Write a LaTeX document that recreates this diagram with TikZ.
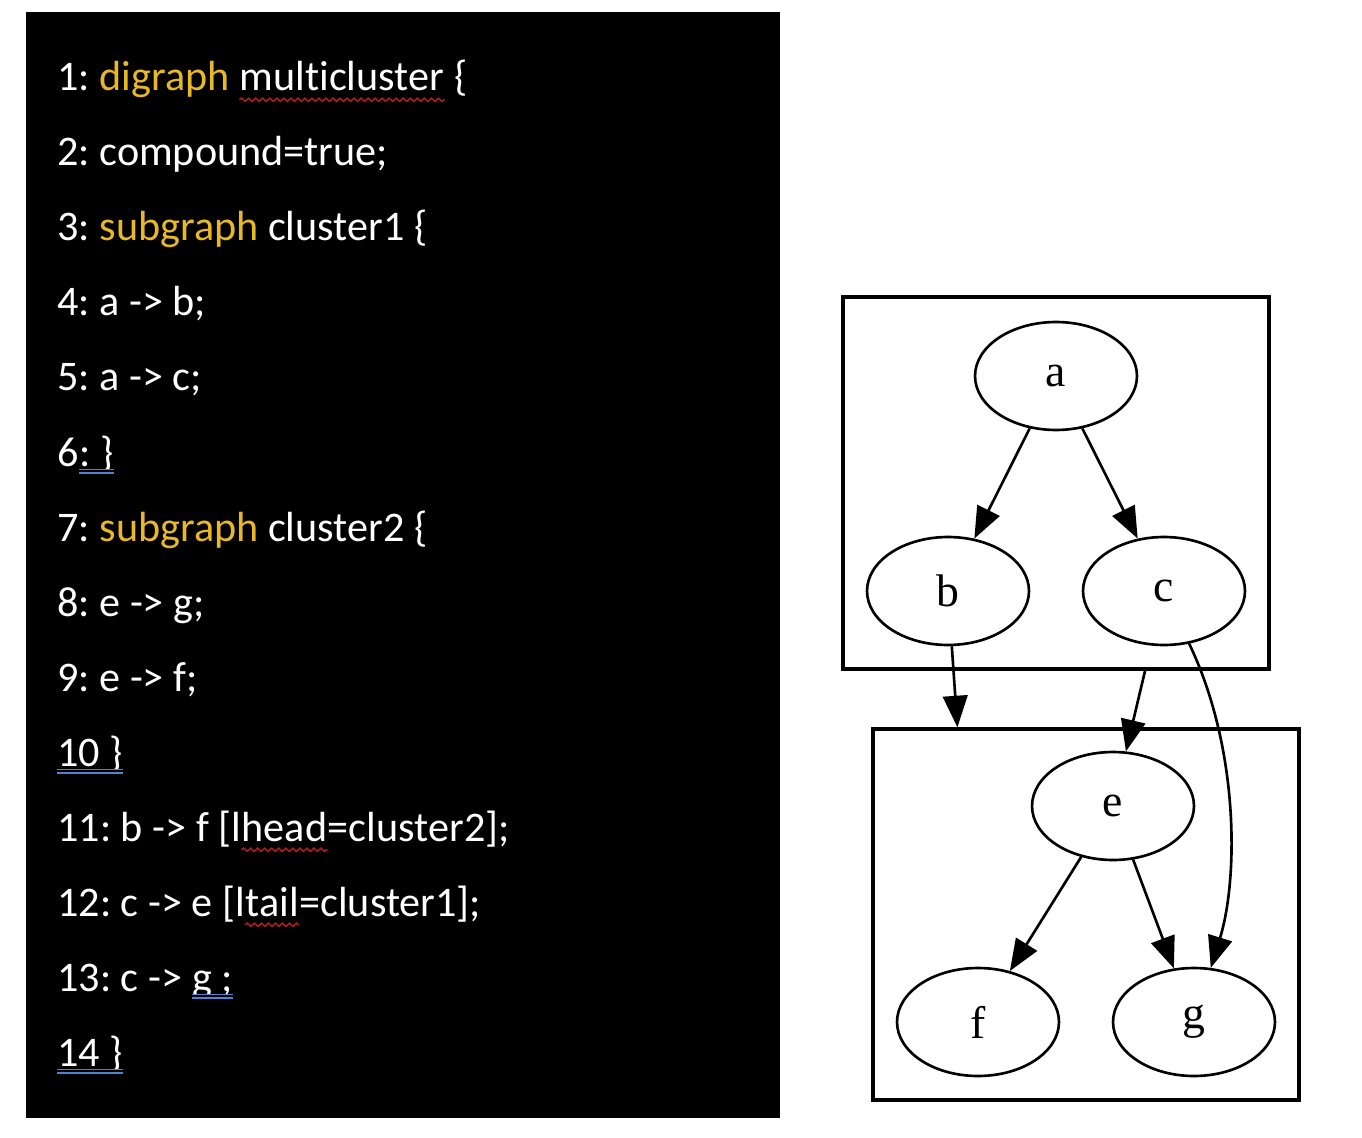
\documentclass[tikz,border=0pt]{standalone}
\usepackage{fontspec}
\setmainfont{Carlito}[Ligatures=NoCommon]
\newfontfamily\dotfont{Liberation Serif}
\usetikzlibrary{arrows.meta}
\usetikzlibrary{shapes.geometric}
\usetikzlibrary{decorations.pathmorphing}

\definecolor{keyword}{RGB}{232,184,40}
\definecolor{spellred}{RGB}{170,30,30}
\definecolor{grammarblue}{RGB}{80,130,210}
\newcommand\kw[1]{\textcolor{keyword}{#1}}
\tikzset{
	spellmark/.style={draw=spellred,line width=0.9pt,decorate,decoration={snake,amplitude=0.9pt,segment length=4pt}},
	grammarmark/.style={draw=grammarblue,double=black,double distance=1.2pt,line width=0.8pt}
}
\frenchspacing

\begin{document}
\begin{tikzpicture}[x=0.02cm,y=-0.02cm]
		\useasboundingbox (0,0) rectangle (1362,1138);
		\fill[black] (26,12) rectangle (780,1118);

		\begin{scope}[every node/.style={anchor=base west,inner sep=0pt,text=white,font=\fontsize{24}{28}\selectfont}]
			\node (line1) at (57,91) {1: \kw{digraph}\mbox{\ }};
			\node (line1w) at (line1.base east) {multicluster};
			\node (line1z) at (line1w.base east) {\mbox{\ }\{};
			\node (line2) at (57,166) {2: compound=true;};
			\node (line3) at (57,241) {3: \kw{subgraph} cluster1 \{};
			\node (line4) at (57,316) {4: a -> b;};
			\node (line5) at (57,391) {5: a -> c;};
			\node (line6) at (57,466) {6};
			\node (line6u) at (line6.base east) {: \}};
			\node (line7) at (57,541) {7: \kw{subgraph} cluster2 \{};
			\node (line8) at (57,616) {8: e -> g;};
			\node (line9) at (57,691) {9: e -> f;};
			\node (line10) at (57,766) {10 \}};
			\node (line11) at (57,841) {11: b -> f [l};
			\node (line11w) at (line11.base east) {head};
			\node (line11z) at (line11w.base east) {=cluster2];};
			\node (line12) at (57,916) {12: c -> e [l};
			\node (line12w) at (line12.base east) {tail};
			\node (line12z) at (line12w.base east) {=cluster1];};
			\node (line13) at (57,991) {13: c ->\mbox{\ }};
			\node (line13u) at (line13.base east) {g ;};
			\node (line14) at (57,1066) {14 \}};
		\end{scope}

		% spelling and grammar marks
		\draw[spellmark] ([yshift=-5pt]line1w.base west) -- ([yshift=-5pt]line1w.base east);
		\draw[spellmark] ([yshift=-5pt]line11w.base west) -- ([yshift=-5pt]line11w.base east);
		\draw[spellmark] ([yshift=-5pt]line12w.base west) -- ([yshift=-5pt]line12w.base east);
		\draw[grammarmark] ([yshift=-3pt]line6u.base west) -- ([yshift=-3pt]line6u.base east);
		\draw[grammarmark] ([yshift=-3pt]line10.base west) -- ([yshift=-3pt]line10.base east);
		\draw[grammarmark] ([yshift=-3pt]line13u.base west) -- ([yshift=-3pt]line13u.base east);
		\draw[grammarmark] ([yshift=-3pt]line14.base west) -- ([yshift=-3pt]line14.base east);

		\begin{scope}[every node/.style={draw,rectangle,line width=1.8pt,inner sep=0pt,minimum width=8.52cm}]
			\node[minimum height=7.44cm] (cluster1) at (1056,483) {};
			\node[minimum height=7.42cm] (cluster2) at (1086,914.5) {};
		\end{scope}

		\begin{scope}[every node/.style={ellipse,draw,line width=1.5pt,inner sep=0pt,minimum width=3.24cm,minimum height=2.16cm,font=\dotfont\fontsize{26}{30}\selectfont}]
			\node (a) at (1056,376) {a};
			\node (b) at (948,591) {b};
			\node (c) at (1164,591) {c};
			\node (e) at (1113,806) {e};
			\node (f) at (978,1022) {f};
			\node (g) at (1194,1022) {g};
		\end{scope}

		\coordinate (bf) at (intersection of b--f and cluster2.north west--cluster2.north east);
		\coordinate (ce) at (intersection of c--e and cluster1.south west--cluster1.south east);

		\begin{scope}[>={Triangle[length=18pt,width=14pt]},
		              every edge/.style={draw=black,line width=1.5pt}]
			\path (a) edge[->] (b);
			\path (a) edge[->] (c);
			\path (b) edge[->] (bf);
			\path (ce) edge[->] (e);
			\path (e) edge[->] (f);
			\path (e) edge[->] (g);
			\draw[->,line width=1.5pt] (c) .. controls (1240,750) and (1238,880) .. (g);
		\end{scope}
\end{tikzpicture}
\end{document}
